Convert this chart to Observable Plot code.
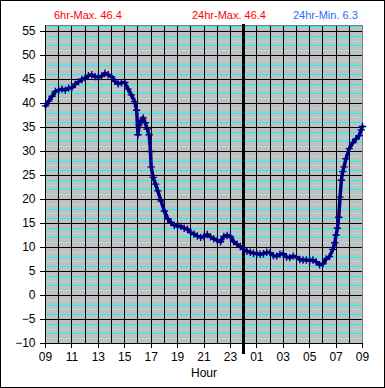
<!DOCTYPE html>
<html><head><meta charset="utf-8">
<script src="https://cdn.jsdelivr.net/npm/d3@7"></script>
<script src="https://cdn.jsdelivr.net/npm/@observablehq/plot@0.6"></script>
<style>
body{margin:0;background:#fff;}
#wrap{position:relative;width:385px;height:388px;box-sizing:border-box;border:1px solid #000;font-family:"Liberation Sans",Arial,sans-serif;overflow:hidden;background:#fff}
.t{position:absolute;top:8px;font-size:11px;line-height:13px;white-space:nowrap}
#chart{position:absolute;left:0;top:0}
</style></head><body>
<div id="wrap"><div id="chart"></div></div>
<script>
// hours since 09:00
const hours = [0,0.25,0.5,0.75,1,1.25,1.5,1.75,2,2.25,2.5,2.75,3,3.25,3.5,3.75,4,4.25,4.5,4.75,5,5.25,5.5,5.75,6,6.25,6.5,6.75,6.9,7,7.1,7.25,7.4,7.55,7.7,7.85,7.95,8,8.15,8.33,8.5,8.75,9,9.25,9.5,9.75,10,10.25,10.5,10.75,11,11.25,11.5,11.75,12,12.25,12.5,12.75,13,13.25,13.5,13.75,14,14.25,14.5,14.75,15,15.25,15.5,15.75,16,16.25,16.5,16.75,17,17.25,17.5,17.75,18,18.25,18.5,18.75,19,19.25,19.5,19.75,20,20.25,20.5,20.75,21,21.25,21.5,21.75,21.9,22,22.1,22.2,22.3,22.4,22.5,22.6,22.75,23,23.25,23.5,23.75,23.9,24];
const temps = [39.5,40.5,41.5,42.5,42.8,43.0,42.8,43.2,43.3,44.0,44.5,45.0,45.3,45.8,46.0,45.6,45.5,45.7,46.3,46.0,45.6,44.6,44.1,44.3,44.4,43.0,41.8,40.4,38.6,33.5,35.5,36.5,37.0,36.0,34.7,33.5,30.0,26.8,24.6,23.2,21.8,19.7,17.6,16.0,15.2,14.6,14.5,14.4,14.0,13.8,13.1,12.8,12.4,12.1,12.3,12.7,12.2,11.8,11.5,11.2,12.3,12.5,12.3,11.2,10.7,10.2,9.6,9.2,9.0,8.8,8.7,8.6,8.7,9.0,8.9,8.3,8.2,8.6,8.7,8.0,7.9,8.2,8.0,7.5,7.4,7.4,7.3,7.4,7.0,6.4,6.6,7.6,8.1,9.6,11.0,12.6,14.0,16.3,20.5,24.0,25.8,26.8,28.5,30.6,31.8,32.6,33.3,34.5,35.2];
const xTicks = [0,2,4,6,8,10,12,14,16,18,20,22,24];
const xTickLabels = ["09","11","13","15","17","19","21","23","01","03","05","07","09"];
const yTicks = [-10,-5,0,5,10,15,20,25,30,35,40,45,50,55];
const titles = ["6hr-Max. 46.4","24hr-Max. 46.4","24hr-Min. 6.3"];
const titleColors = ["#ff0000","#ff0000","#3366ff"];
const titleLeft = [53,191,292];
const midnightHour = 15;

const data = hours.map((h,i)=>({h, t: temps[i]}));
const minorBright = d3.range(-10, 57).filter(v => v % 5 !== 0 && Math.abs(v % 2) === 0);
const minorPale = d3.range(-10, 57).filter(v => v % 5 !== 0 && Math.abs(v % 2) === 1);
const crisp = {shapeRendering: "crispEdges"};

const plot = Plot.plot({
  width: 383, height: 386,
  marginLeft: 44, marginRight: 22, marginTop: 24, marginBottom: 44,
  style: {fontFamily: "Liberation Sans, Arial, sans-serif", fontSize: "12px", background: "transparent", color: "#000", overflow: "visible"},
  x: {domain: [0, 24]},
  y: {domain: [-10, 56.25]},
  marks: [
    Plot.frame({fill: "#c0c0c0"}),
    Plot.ruleY(minorPale, {stroke: "#9fdfe0", strokeWidth: 1, ...crisp}),
    Plot.ruleY(minorBright, {stroke: "#00ffff", strokeWidth: 1, ...crisp}),
    Plot.ruleY(yTicks, {stroke: "#000", ...crisp}),
    Plot.ruleX(d3.range(0, 24), {stroke: "#000", ...crisp}),
    Plot.frame({stroke: "#808080", ...crisp}),
    Plot.ruleX([0], {stroke: "#000", ...crisp}),
    Plot.ruleY([-10], {stroke: "#000", ...crisp}),
    Plot.ruleX([midnightHour], {stroke: "#000", strokeWidth: 3, insetTop: -1, insetBottom: -11, ...crisp}),
    Plot.line(data, {x: "h", y: "t", stroke: "#000080", strokeWidth: 3.5}),
    Plot.dot(data, {x: "h", y: "t", symbol: "plus", r: 2.5, stroke: "#000080", strokeWidth: 1.4}),
    Plot.axisY({ticks: yTicks, tickSize: 5, tickPadding: 5, label: null, anchor: "left", fontSize: 12, ...crisp}),
    Plot.axisX({ticks: xTicks, tickSize: 5, tickPadding: 4, label: null, fontSize: 12, ...crisp,
      tickFormat: d => xTickLabels[xTicks.indexOf(d)]}),
    Plot.text(["Hour"], {text: d => d, frameAnchor: "bottom", dy: 30, lineAnchor: "middle", fontSize: 12, fill: "#000"})
  ]
});
document.getElementById("chart").appendChild(plot);
const wrap = document.getElementById("wrap");
titles.forEach((t, i) => {
  const d = document.createElement("div");
  d.className = "t";
  d.style.left = titleLeft[i] + "px";
  d.style.color = titleColors[i];
  d.textContent = t;
  wrap.appendChild(d);
});
</script>
</body></html>
